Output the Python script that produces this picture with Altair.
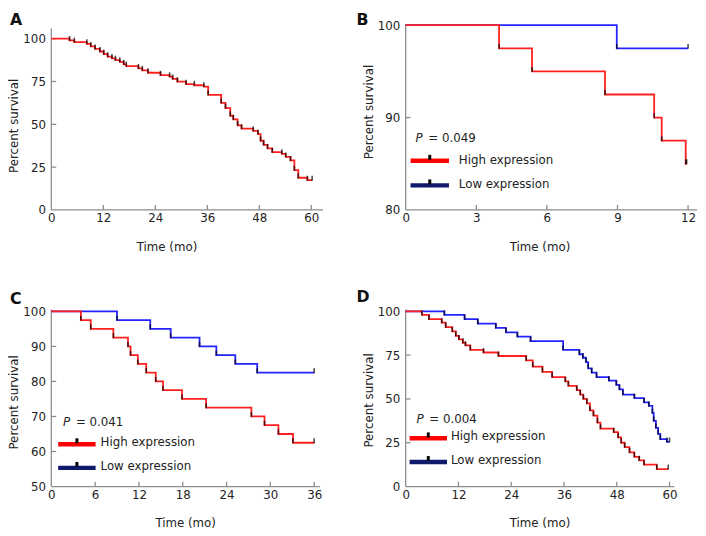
import altair as alt
import pandas as pd

FONT = "DejaVu Sans"
RED = "#ff1f1f"
BLUE = "#2424ff"
LEG_RED = "#ff0000"
LEG_BLUE = "#0f1a6b"
AXIS = "#8c8c8c"
TXT = "#222222"

# ---------------- data ----------------
a_time = [0, 4.2, 5.3, 8.2, 9.1, 10.1, 11.2, 12.1, 13.0, 14.0, 14.8, 15.8, 16.7, 17.3, 20.1, 21.0,
          22.3, 25.2, 27.3, 28.0, 29.1, 31.1, 33.0, 35.2, 36.2, 39.2, 40.2, 41.3, 42.0, 43.0, 43.9,
          46.6, 47.7, 48.3, 49.0, 49.9, 51.0, 53.2, 54.1, 55.2, 56.1, 57.0, 59.1, 60.2]
a_surv = [100, 99, 98, 97, 95.5, 94, 92.5, 91, 89.5, 88.5, 87.5, 86.5, 85, 84, 82.6, 81.5,
          80.1, 78.7, 77.8, 76.5, 74.9, 73.4, 72.8, 72, 67.2, 62.5, 59.4, 55, 52.9, 49.4, 47.5,
          46.2, 44.3, 40.4, 38, 36, 33.7, 32.8, 31, 28.9, 23.2, 18.8, 17.4, 17.4]

b_high_time = [0, 3.97, 5.37, 8.47, 10.56, 10.88, 11.9, 11.94]
b_high_surv = [100, 97.5, 95, 92.5, 90, 87.5, 85, 85]
b_low_time = [0, 8.97, 12.0]
b_low_surv = [100, 97.5, 97.5]

c_high_time = [0, 4.05, 5.4, 8.5, 10.5, 10.85, 11.85, 13.0, 14.3, 15.3, 17.9, 21.2, 27.4, 29.2, 31.1, 33.1, 36.0]
c_high_surv = [100, 97.5, 95, 92.5, 90, 87.5, 85, 82.5, 80, 77.5, 75, 72.5, 70, 67.5, 65, 62.5, 62.5]
c_low_time = [0, 9.0, 13.55, 16.35, 20.3, 22.6, 25.2, 28.2, 36.0]
c_low_surv = [100, 97.5, 95, 92.5, 90, 87.5, 85, 82.5, 82.5]

d_high_time = [0, 3.7, 5.3, 8.2, 9.1, 10.6, 11.4, 12.1, 13.0, 13.6, 14.7, 17.7, 21.1, 27.4, 28.9, 31.1,
               33.3, 36.3, 37.0, 38.9, 39.7, 40.4, 41.2, 41.9, 42.7, 43.6, 44.3, 47.3, 48.3, 49.0, 49.8,
               50.9, 52.0, 53.1, 54.2, 57.1, 59.7]
d_high_surv = [100, 98, 95.5, 93.5, 91, 88.5, 86, 84, 82, 80.5, 78, 76.5, 74.5, 72, 68.5, 65.5,
               62.5, 60, 57.5, 55, 52.5, 50, 47.5, 43.5, 40.5, 36.5, 33, 31, 28, 25, 22.5,
               19.5, 17, 15, 12.5, 10, 10]
d_low_time = [0, 8.8, 13.4, 16.4, 20.5, 22.8, 25.4, 28.4, 35.8, 39.5, 40.3, 41.0, 41.5, 42.3, 43.4,
              46.2, 47.9, 48.6, 49.4, 52.0, 54.2, 55.3, 56.1, 56.4, 56.9, 57.4, 57.9, 59.4, 60.0]
d_low_surv = [100, 98, 95.5, 93, 90.5, 88, 85.5, 83, 78, 75.5, 73.5, 71, 67.5, 65, 62.5,
              60.5, 58, 55.5, 52.5, 50.5, 48, 46, 42, 37.5, 33.5, 30, 27, 25.5, 25.5]

x_ticks_60 = [0, 12, 24, 36, 48, 60]
x_ticks_12 = [0, 3, 6, 9, 12]
x_ticks_36 = [0, 6, 12, 18, 24, 30, 36]
y_ticks_100 = [0, 25, 50, 75, 100]
y_ticks_b = [80, 90, 100]
y_ticks_c = [50, 60, 70, 80, 90, 100]

p_values = {"B": "0.049", "C": "0.041", "D": "0.004"}
legend_names = ["High expression", "Low expression"]


def panel(label, series, xdom, xend, xticks, ydom, yend, yticks, w, h, lab_dx, lab_dy, tx, ty, leg=None):
    xs = alt.Scale(domain=xdom, zero=False, nice=False)
    ys = alt.Scale(domain=ydom, zero=False, nice=False)
    xax = alt.Axis(values=xticks, grid=False, tickSize=0, labelPadding=3, labelFlush=False,
                   labelOverlap=False, domain=False, labelFont=FONT, labelFontSize=12, labelColor=TXT,
                   title="Time (mo)", titleFont=FONT, titleFontSize=12, titleFontWeight="normal",
                   titleColor=TXT, titlePadding=18, titleX=tx)
    yax = alt.Axis(values=yticks, grid=False, tickSize=0, labelPadding=6, labelFlush=False,
                   labelOverlap=False, domain=False, labelFont=FONT, labelFontSize=12, labelColor=TXT,
                   title="Percent survival", titleFont=FONT, titleFontSize=12, titleFontWeight="normal",
                   titleColor=TXT, titlePadding=2, titleY=ty)
    layers = []
    # axis lines
    xl = pd.DataFrame({"x1": [xdom[0]], "x2": [xend], "y": [ydom[0]]})
    yl = pd.DataFrame({"y1": [ydom[0]], "y2": [yend], "x": [xdom[0]]})
    layers.append(alt.Chart(xl).mark_rule(color=AXIS, strokeWidth=1.3).encode(
        x=alt.X("x1:Q", scale=xs, axis=xax), x2="x2:Q", y=alt.Y("y:Q", scale=ys, axis=yax)))
    layers.append(alt.Chart(yl).mark_rule(color=AXIS, strokeWidth=1.3).encode(
        y=alt.Y("y1:Q", scale=ys, axis=yax), y2="y2:Q", x=alt.X("x:Q", scale=xs, axis=xax)))
    # inner tick marks
    xt = pd.DataFrame({"v": xticks[1:]})
    yt = pd.DataFrame({"v": yticks[1:]})
    layers.append(alt.Chart(xt).mark_rule(color=AXIS, strokeWidth=1.3).encode(
        x=alt.X("v:Q", scale=xs, axis=xax), y=alt.value(h), y2=alt.value(h - 5)))
    layers.append(alt.Chart(yt).mark_rule(color=AXIS, strokeWidth=1.3).encode(
        y=alt.Y("v:Q", scale=ys, axis=yax), x=alt.value(0), x2=alt.value(5)))
    for times, survs, color in series:
        df = pd.DataFrame({"t": times, "s": survs})
        layers.append(alt.Chart(df).mark_line(interpolate="step-after", color=color, strokeWidth=1.8).encode(
            x=alt.X("t:Q", scale=xs, axis=xax), y=alt.Y("s:Q", scale=ys, axis=yax)))
        dt = df.iloc[1:]
        layers.append(alt.Chart(dt).mark_tick(orient="vertical", color="black", size=5, thickness=1.6,
                                               yOffset=-2).encode(
            x=alt.X("t:Q", scale=xs, axis=xax), y=alt.Y("s:Q", scale=ys, axis=yax)))
    one = pd.DataFrame({"k": [0]})
    layers.append(alt.Chart(one).mark_text(text=label, font=FONT, fontSize=16, fontWeight="bold",
                                           color="#111111", align="left", baseline="top").encode(
        x=alt.value(lab_dx), y=alt.value(lab_dy)))
    if leg is not None:
        px, py, lx1, lx2, ly1, ly2, tx0, tdy = leg
        layers.append(alt.Chart(one).mark_text(text="P", font=FONT, fontSize=12, fontStyle="italic",
                                               color=TXT, align="left", baseline="middle").encode(
            x=alt.value(px), y=alt.value(py)))
        layers.append(alt.Chart(one).mark_text(text="= " + p_values[label], font=FONT, fontSize=12,
                                               color=TXT, align="left", baseline="middle").encode(
            x=alt.value(px + 13), y=alt.value(py)))
        for ly, col, name in [(ly1, LEG_RED, legend_names[0]), (ly2, LEG_BLUE, legend_names[1])]:
            layers.append(alt.Chart(one).mark_rule(color=col, strokeWidth=4.5).encode(
                x=alt.value(lx1), x2=alt.value(lx2), y=alt.value(ly)))
            mid = (lx1 + lx2) / 2
            layers.append(alt.Chart(one).mark_rule(color="black", strokeWidth=3).encode(
                x=alt.value(mid), y=alt.value(ly - 6), y2=alt.value(ly - 1)))
            layers.append(alt.Chart(one).mark_text(text=name, font=FONT, fontSize=12, color=TXT,
                                                   align="left", baseline="middle").encode(
                x=alt.value(tx0), y=alt.value(ly + tdy)))
    return alt.layer(*layers).properties(width=w, height=h)


pA = panel("A", [(a_time, a_surv, RED)], [0, 62.7], 62.7, x_ticks_60, [0, 108.6], 105.9, y_ticks_100,
           276, 189, -42, -12, 117, 103)
pB = panel("B", [(b_low_time, b_low_surv, BLUE), (b_high_time, b_high_surv, RED)],
           [0, 12.38], 12.38, x_ticks_12, [80, 100.14], 100.14, y_ticks_b, 296, 189, -50, -12, 136, 89,
           leg=(10, 116, 5, 44, 139, 164, 54, -1))
pC = panel("C", [(c_low_time, c_low_surv, BLUE), (c_high_time, c_high_surv, RED)],
           [0, 36.8], 36.8, x_ticks_36, [50, 100.56], 100.56, y_ticks_c, 273, 180, -42, -18, 136, 94,
           leg=(12, 114, 7, 45, 137, 161, 50, -2))
pD = panel("D", [(d_low_time, d_low_surv, BLUE), (d_high_time, d_high_surv, RED)],
           [0, 61.1], 61.1, x_ticks_60, [0, 101.1], 101.1, y_ticks_100, 273, 180, -50, -20, 136, 92,
           leg=(11, 111, 4, 42, 131, 155, 46, -2))

row1 = alt.hconcat(pA, pB, spacing=33)
row2 = alt.hconcat(pC, pD, spacing=35)
chart = alt.vconcat(row1, row2, spacing=38).properties(
    padding={"left": 0, "top": 0, "right": 0, "bottom": 0},
    background="white",
).configure_view(stroke=None).configure_axis(labelOverlap=False)

chart.save("out.html", embed_options={"renderer": "svg", "actions": False})
